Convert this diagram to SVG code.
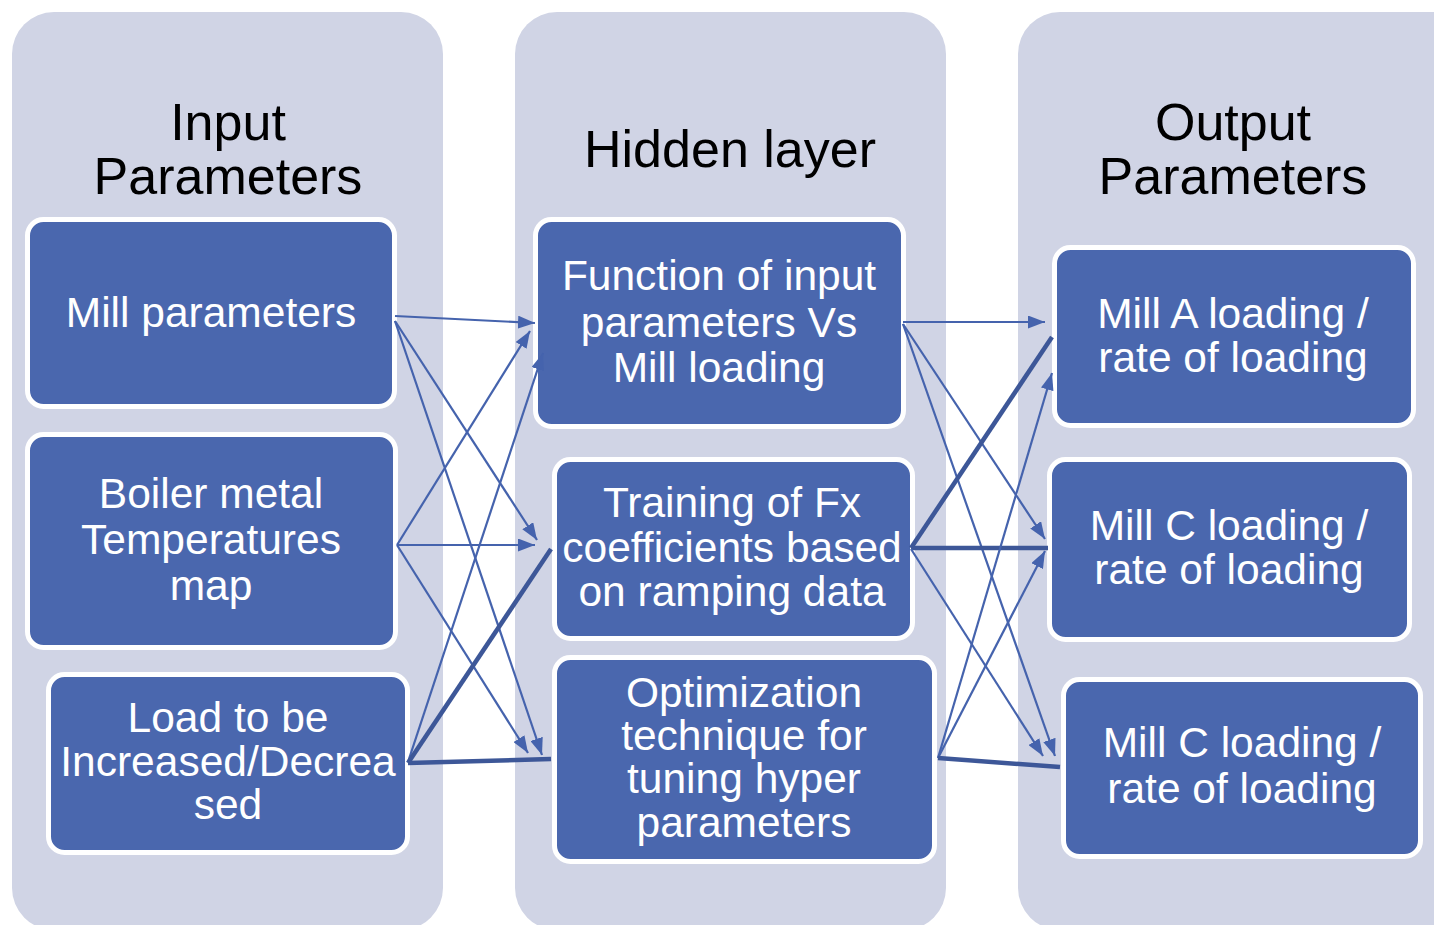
<svg xmlns="http://www.w3.org/2000/svg" width="1434" height="925" viewBox="0 0 1434 925">
<defs>
<style>
.panel{fill:#d0d4e5;}
.node{fill:#4a67ae;stroke:#ffffff;stroke-width:5;}
.title{font-family:"Liberation Sans",Arial,sans-serif;font-size:52px;fill:#000000;text-anchor:middle;}
.lbl{font-family:"Liberation Sans",Arial,sans-serif;font-size:42.5px;fill:#ffffff;text-anchor:middle;}
.thin{stroke:#4563ad;stroke-width:2.2;fill:none;marker-end:url(#ah);}
.thick{stroke:#3d5798;stroke-width:4.5;fill:none;}
</style>
<marker id="ah" markerUnits="userSpaceOnUse" markerWidth="17" markerHeight="13" refX="17" refY="6.5" orient="auto" viewBox="0 0 17 13">
<path d="M0,0 L17,6.5 L0,13 z" fill="#4563ad"/>
</marker>
</defs>
<rect width="1434" height="925" fill="#ffffff"/>
<g id="panel-input">
<rect class="panel" x="12" y="12" width="431" height="918" rx="42"/>
<text class="title" x="228" y="140">Input</text>
<text class="title" x="228" y="194">Parameters</text>
</g>
<g id="panel-hidden">
<rect class="panel" x="515" y="12" width="431" height="918" rx="42"/>
<text class="title" x="730" y="167">Hidden layer</text>
</g>
<g id="panel-output">
<rect class="panel" x="1018" y="12" width="460" height="918" rx="42"/>
<text class="title" x="1233" y="140">Output</text>
<text class="title" x="1233" y="194">Parameters</text>
</g>
<g id="node-mill-parameters">
<rect class="node" x="27.5" y="219.5" width="367" height="187" rx="16"/>
<text class="lbl" x="211" y="327">Mill parameters</text>
</g>
<g id="node-boiler">
<rect class="node" x="27.5" y="434.5" width="368" height="213" rx="16"/>
<text class="lbl" x="211" y="508">Boiler metal</text>
<text class="lbl" x="211" y="554">Temperatures</text>
<text class="lbl" x="211" y="600">map</text>
</g>
<g id="node-load">
<rect class="node" x="48.5" y="674.5" width="359" height="178" rx="16"/>
<text class="lbl" x="228" y="732">Load to be</text>
<text class="lbl" x="228" y="776">Increased/Decrea</text>
<text class="lbl" x="228" y="819">sed</text>
</g>
<g id="node-function">
<rect class="node" x="535.5" y="219.5" width="368" height="207" rx="16"/>
<text class="lbl" x="719" y="290">Function of input</text>
<text class="lbl" x="719" y="337">parameters Vs</text>
<text class="lbl" x="719" y="382">Mill loading</text>
</g>
<g id="node-training">
<rect class="node" x="554.5" y="459.5" width="358" height="179" rx="16"/>
<text class="lbl" x="732" y="517">Training of Fx</text>
<text class="lbl" x="732" y="562">coefficients based</text>
<text class="lbl" x="732" y="606">on ramping data</text>
</g>
<g id="node-optimization">
<rect class="node" x="554.5" y="657.5" width="380" height="204" rx="16"/>
<text class="lbl" x="744" y="707">Optimization</text>
<text class="lbl" x="744" y="750">technique for</text>
<text class="lbl" x="744" y="793">tuning hyper</text>
<text class="lbl" x="744" y="837">parameters</text>
</g>
<g id="node-mill-a">
<rect class="node" x="1054.5" y="247.5" width="359" height="178" rx="16"/>
<text class="lbl" x="1233" y="328">Mill A loading /</text>
<text class="lbl" x="1233" y="372">rate of loading</text>
</g>
<g id="node-mill-c1">
<rect class="node" x="1049.5" y="459.5" width="360" height="180" rx="16"/>
<text class="lbl" x="1229" y="540">Mill C loading /</text>
<text class="lbl" x="1229" y="584">rate of loading</text>
</g>
<g id="node-mill-c2">
<rect class="node" x="1063.5" y="679.5" width="357" height="177" rx="16"/>
<text class="lbl" x="1242" y="757">Mill C loading /</text>
<text class="lbl" x="1242" y="803">rate of loading</text>
</g>
<g id="connectors">
<line class="thin" x1="395" y1="316" x2="535" y2="323"/>
<line class="thin" x1="395" y1="321" x2="537" y2="540"/>
<line class="thin" x1="395" y1="321" x2="542" y2="755"/>
<line class="thin" x1="397" y1="545" x2="530" y2="331"/>
<line class="thin" x1="397" y1="545" x2="535" y2="545"/>
<line class="thin" x1="397" y1="545" x2="528" y2="753"/>
<line class="thin" x1="408" y1="762" x2="543" y2="353"/>
<line class="thick" x1="408" y1="763" x2="551" y2="549"/>
<line class="thick" x1="408" y1="763" x2="551" y2="759"/>
<line class="thin" x1="903" y1="322" x2="1045" y2="322"/>
<line class="thin" x1="903" y1="324" x2="1045" y2="539"/>
<line class="thin" x1="903" y1="324" x2="1055" y2="756"/>
<line class="thick" x1="911" y1="548" x2="1052" y2="337"/>
<line class="thick" x1="911" y1="548" x2="1048" y2="548"/>
<line class="thin" x1="911" y1="549" x2="1043" y2="756"/>
<line class="thin" x1="938" y1="758" x2="1052" y2="373"/>
<line class="thin" x1="938" y1="758" x2="1045" y2="551"/>
<line class="thick" x1="938" y1="758" x2="1060" y2="767"/>
</g>
</svg>
